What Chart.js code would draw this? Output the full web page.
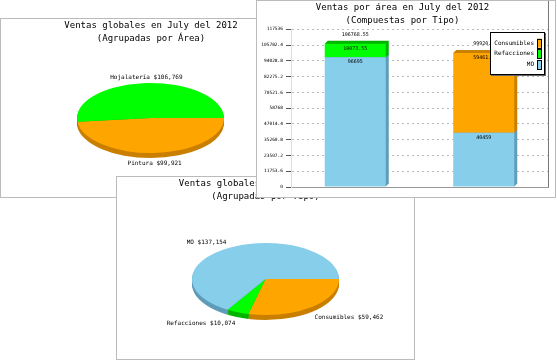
<!DOCTYPE html>
<html>
<head>
<meta charset="utf-8">
<script src="https://cdn.jsdelivr.net/npm/chart.js@4"></script>
<style>
  body { margin: 0; background: #fff; width: 557px; height: 360px; overflow: hidden; position: relative; }
  .panel { position: absolute; background: #fff; border: 1px solid #bbb; }
  .panel canvas { display: block; }
</style>
</head>
<body>
<div class="panel" style="left:0;top:18px;width:300px;height:178px"><canvas id="areaPie" width="300" height="178"></canvas></div>
<div class="panel" style="left:116px;top:176px;width:297px;height:182px"><canvas id="typePie" width="297" height="182"></canvas></div>
<div class="panel" style="left:256px;top:0;width:298px;height:196px"><canvas id="areaBar" width="298" height="196"></canvas></div>

<script>
// Ventas July 2012
const AREAS = ['Hojalatería', 'Pintura'];
const AREA_TOTALS = [106769, 99921];

const TYPES = ['MO', 'Refacciones', 'Consumibles'];
const TYPE_TOTALS = [137154, 10074, 59462];

const BAR_CATEGORIES = ['hojalateria', 'pintura'];
const MO_VALUES = [96695, 40459];
const REFACCIONES_VALUES = [10073.55, null];
const CONSUMIBLES_VALUES = [null, 59461.6];
const Y_TICKS = [0, 11753.6, 23507.2, 35260.8, 47014.4, 58768, 70521.6, 82275.2, 94028.8, 105782.4, 117536];

const SKY = '#87ceeb', SKY_DARK = '#5f9cb8';
const LIME = '#00ff00', LIME_DARK = '#00b400';
const ORANGE = '#ffa500', ORANGE_DARK = '#c97f00';
const MONO = '"DejaVu Sans Mono", "Liberation Mono", monospace';

function money(v) {
    return '$' + Math.round(v).toString().replace(/\B(?=(\d{3})+(?!\d))/g, ',');
}

function titleOpts(lines) {
    return {
        display: true, text: lines, color: '#000',
        font: { family: MONO, size: 9, weight: 'normal', lineHeight: 1.35 },
        padding: { top: 1, bottom: 3 }
    };
}

// jpgraph style 3d pie: the round pie is squashed into an ellipse with a rim under it
function pie3d(box) {
    let ax, ay, R;
    function toEllipse(ctx, dy) {
        ctx.translate(box.cx, box.cy + dy);
        ctx.scale(box.rx / R, box.ry / R);
        ctx.translate(-ax, -ay);
    }
    return {
        id: 'pie3d',
        beforeDatasetsDraw(chart) {
            const ctx = chart.ctx;
            const arcs = chart.getDatasetMeta(0).data;
            const rim = chart.data.datasets[0].rimColor;
            ax = arcs[0].x; ay = arcs[0].y; R = arcs[0].outerRadius;
            for (let d = box.depth; d >= 1; d--) {
                ctx.save();
                toEllipse(ctx, d);
                arcs.forEach((a, i) => {
                    ctx.beginPath();
                    ctx.moveTo(ax, ay);
                    ctx.arc(ax, ay, R, a.startAngle, a.endAngle);
                    ctx.closePath();
                    ctx.fillStyle = rim[i];
                    ctx.fill();
                });
                ctx.restore();
            }
            ctx.save();
            toEllipse(ctx, 0);
        },
        afterDatasetsDraw(chart) {
            const ctx = chart.ctx;
            ctx.restore();
            const arcs = chart.getDatasetMeta(0).data;
            const ds = chart.data.datasets[0];
            ctx.save();
            ctx.font = '6px ' + MONO;
            ctx.fillStyle = '#000';
            arcs.forEach((a, i) => {
                const mid = (a.startAngle + a.endAngle) / 2;
                const c = Math.cos(mid), s = Math.sin(mid);
                const x = box.cx + c * box.rx * 1.08;
                const y = box.cy + s * box.ry * 1.08 + (s > 0 ? box.depth : 0);
                ctx.textAlign = Math.abs(c) < 0.25 ? 'center' : (c > 0 ? 'left' : 'right');
                ctx.textBaseline = s > 0 ? 'top' : 'bottom';
                ctx.fillText(chart.data.labels[i] + ' ' + money(ds.data[i]), x, y);
            });
            ctx.restore();
        }
    };
}

function pieChart(id, labels, values, colors, rims, title, box) {
    // jpgraph goes counter-clockwise from 3 o'clock, chart.js clockwise, so feed it reversed
    return new Chart(document.getElementById(id), {
        type: 'pie',
        data: {
            labels: labels.slice().reverse(),
            datasets: [{
                data: values.slice().reverse(),
                backgroundColor: colors.slice().reverse(),
                rimColor: rims.slice().reverse(),
                borderWidth: 0,
                clip: false
            }]
        },
        options: {
            responsive: false, animation: false, events: [],
            rotation: 90,
            plugins: { legend: { display: false }, tooltip: { enabled: false }, title: titleOpts(title) }
        },
        plugins: [pie3d(box)]
    });
}

pieChart('areaPie', AREAS, AREA_TOTALS, [LIME, ORANGE], [LIME_DARK, ORANGE_DARK],
    ['Ventas globales en July del 2012', '(Agrupadas por Área)'],
    { cx: 149.5, cy: 99, rx: 73.5, ry: 35, depth: 5 });

pieChart('typePie', TYPES, TYPE_TOTALS, [SKY, LIME, ORANGE], [SKY_DARK, LIME_DARK, ORANGE_DARK],
    ['Ventas globales en July del 2012', '(Agrupadas por Tipo)'],
    { cx: 148.5, cy: 102, rx: 73.5, ry: 36, depth: 5 });

// side + top faces of the bars
const bar3d = {
    id: 'bar3d',
    beforeDatasetsDraw(chart) {
        const ctx = chart.ctx, d = 3;
        chart.data.datasets.forEach((ds, i) => {
            chart.getDatasetMeta(i).data.forEach((bar, j) => {
                if (ds.data[j] == null) return;
                const l = bar.x - bar.width / 2, r = bar.x + bar.width / 2;
                ctx.fillStyle = ds.sideColor;
                ctx.beginPath();
                ctx.moveTo(l, bar.y);
                ctx.lineTo(l + d, bar.y - d);
                ctx.lineTo(r + d, bar.y - d);
                ctx.lineTo(r + d, bar.base - d);
                ctx.lineTo(r, bar.base);
                ctx.closePath();
                ctx.fill();
            });
        });
    }
};

// value on each segment and the sum above each stack
const barLabels = {
    id: 'barLabels',
    afterDatasetsDraw(chart) {
        const ctx = chart.ctx;
        const fmt = v => String(Math.round(v * 100) / 100);
        ctx.save();
        ctx.font = '5px ' + MONO;
        ctx.fillStyle = '#000';
        ctx.textAlign = 'center';
        ctx.textBaseline = 'middle';
        chart.data.labels.forEach((_, j) => {
            let sum = 0, top = Infinity, x = 0;
            chart.data.datasets.forEach((ds, i) => {
                const v = ds.data[j];
                if (v == null) return;
                const bar = chart.getDatasetMeta(i).data[j];
                ctx.fillText(fmt(v), bar.x, bar.y + 4.5);
                sum += v; top = Math.min(top, bar.y); x = bar.x;
            });
            ctx.fillText(fmt(sum), x, top - 9);
        });
        ctx.restore();
    }
};

// plot frame right side + boxed legend in the top right corner
const boxLegend = {
    id: 'boxLegend',
    afterDraw(chart) {
        const ctx = chart.ctx, area = chart.chartArea;
        ctx.save();
        ctx.strokeStyle = '#777';
        ctx.lineWidth = 1;
        ctx.beginPath();
        ctx.moveTo(Math.round(area.right) + 0.5, 0);
        ctx.lineTo(Math.round(area.right) + 0.5, area.bottom);
        ctx.stroke();

        const w = 55, h = 43;
        const x0 = Math.round(area.right - 3 - w), y0 = Math.round(area.top + 3);
        ctx.fillStyle = '#666';
        ctx.fillRect(x0 + 1, y0 + 1, w, h);
        ctx.fillStyle = '#fff';
        ctx.fillRect(x0, y0, w, h);
        ctx.strokeStyle = '#000';
        ctx.strokeRect(x0 + 0.5, y0 + 0.5, w - 1, h - 1);

        ctx.font = '6px ' + MONO;
        ctx.textAlign = 'right';
        ctx.textBaseline = 'middle';
        chart.data.datasets.slice().reverse().forEach((ds, k) => {
            const cy = y0 + 11 + k * 10.8;
            const mx = x0 + w - 8;
            ctx.fillStyle = ds.backgroundColor;
            ctx.fillRect(mx, cy - 4.5, 4.5, 9);
            ctx.strokeStyle = '#000';
            ctx.strokeRect(mx + 0.5, Math.round(cy - 4.5) + 0.5, 4, 9);
            ctx.fillStyle = '#000';
            ctx.fillText(ds.label, mx - 3, cy);
        });
        ctx.restore();
    }
};

const smallFont = size => ({ family: MONO, size: size });

new Chart(document.getElementById('areaBar'), {
    type: 'bar',
    data: {
        labels: BAR_CATEGORIES,
        datasets: [
            { label: 'MO', data: MO_VALUES, backgroundColor: SKY, sideColor: SKY_DARK },
            { label: 'Refacciones', data: REFACCIONES_VALUES, backgroundColor: LIME, sideColor: LIME_DARK },
            { label: 'Consumibles', data: CONSUMIBLES_VALUES, backgroundColor: ORANGE, sideColor: ORANGE_DARK }
        ]
    },
    options: {
        responsive: false, animation: false, events: [],
        layout: { padding: { right: 7 } },
        datasets: { bar: { barPercentage: 0.475, categoryPercentage: 1, borderWidth: 0 } },
        scales: {
            x: {
                stacked: true,
                grid: { display: false },
                border: { color: '#999' },
                ticks: { font: smallFont(5), color: '#000', padding: 3.5 },
                afterFit: s => { s.height = 10; }
            },
            y: {
                stacked: true,
                min: 0, max: Y_TICKS[Y_TICKS.length - 1],
                afterBuildTicks: s => { s.ticks = Y_TICKS.map(v => ({ value: v })); },
                ticks: { font: smallFont(4.5), color: '#000', padding: 3, callback: v => String(v) },
                grid: { color: '#bbb', tickColor: '#555', tickLength: 5 },
                border: { color: '#ddd', dash: [2, 3] },
                afterFit: s => { s.width = 34; }
            }
        },
        plugins: {
            legend: { display: false },
            tooltip: { enabled: false },
            title: titleOpts(['Ventas por área en July del 2012', '(Compuestas por Tipo)'])
        }
    },
    plugins: [bar3d, barLabels, boxLegend]
});
</script>
</body>
</html>
